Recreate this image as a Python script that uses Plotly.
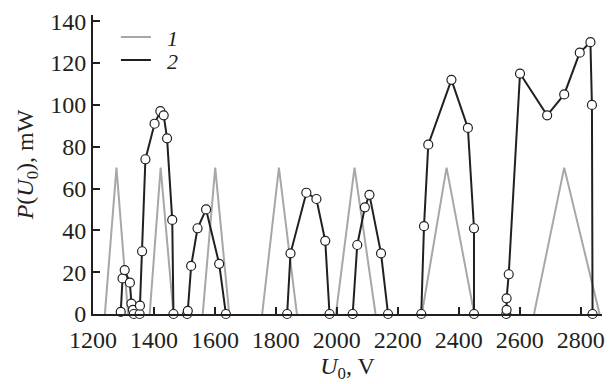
import plotly.graph_objects as go

# Curve 1: triangular pulses (grey), groups separated by None
u1 = [1239, 1277, 1315, None, 1386, 1422, 1464, None, 1560, 1601, 1647, None,
      1755, 1810, 1869, None, 1997, 2058, 2127, None, 2279, 2360, 2451, None,
      2647, 2746, 2862]
p1 = [0, 70, 0, None, 0, 70, 0, None, 0, 70, 0, None,
      0, 70, 0, None, 0, 70, 0, None, 0, 70, 0, None,
      0, 70, 0]

# Curve 2: measured power (black with open circles)
u2 = [1291, 1297, 1304, 1321, 1326, 1331, 1334, 1353, 1354, 1361, 1372, 1402, 1421, 1432, 1443, 1460, 1464, None,
      1509, 1511, 1522, 1543, 1571, 1614, 1636, None,
      1837, 1848, 1900, 1933, 1962, 1976, None,
      2052, 2067, 2092, 2107, 2145, 2168, None,
      2277, 2286, 2300, 2376, 2430, 2450, 2450, None,
      2556, 2557, 2557, 2564, 2601, 2690, 2746, 2797, 2832, 2837, 2839]
p2 = [1, 17, 21, 15, 5, 2, 0, 0, 4, 30, 74, 91, 97, 95, 84, 45, 0, None,
      0, 1.5, 23, 41, 50, 24, 0, None,
      0, 29, 58, 55, 35, 0, None,
      0, 33, 51, 57, 29, 0, None,
      0, 42, 81, 112, 89, 41, 0, None,
      0, 2, 7.5, 19, 115, 95, 105, 125, 130, 100, 0]

x_ticks = [1200, 1400, 1600, 1800, 2000, 2200, 2400, 2600, 2800]
y_ticks = [0, 20, 40, 60, 80, 100, 120, 140]

GREY = "#a7a7a7"
BLACK = "#231f20"
FONT = "Liberation Serif"
FS = 24

fig = go.Figure()
fig.add_trace(go.Scatter(x=u1, y=p1, mode="lines", name="&nbsp;&nbsp;<i>1</i>",
                         legend="legend",
                         line=dict(color=GREY, width=2)))
fig.add_trace(go.Scatter(x=u2, y=p2, mode="lines", name="&nbsp;&nbsp;<i>2</i>",
                         legend="legend2",
                         line=dict(color=BLACK, width=2)))
fig.add_trace(go.Scatter(x=u2, y=p2, mode="markers", showlegend=False,
                         cliponaxis=False,
                         marker=dict(symbol="circle", size=9, color="white",
                                     line=dict(color=BLACK, width=1.2))))

axis_common = dict(showgrid=False, zeroline=False, showline=True,
                   linecolor=BLACK, linewidth=2, ticks="inside", ticklen=7,
                   tickwidth=1.5, tickcolor=BLACK,
                   tickfont=dict(family=FONT, size=FS, color=BLACK))

legend_common = dict(xanchor="left", yanchor="middle",
                     bgcolor="rgba(0,0,0,0)", borderwidth=0,
                     font=dict(family=FONT, size=22, color=BLACK),
                     itemwidth=30)

fig.update_layout(
    width=612, height=384,
    margin=dict(l=93, r=7, t=15, b=70),
    paper_bgcolor="white", plot_bgcolor="white",
    xaxis=dict(range=[1200, 2870], tickvals=x_ticks, ticklabelstandoff=3,
               title=dict(text="<i>U</i><sub>0</sub>, V", standoff=2,
                          font=dict(family=FONT, size=FS, color=BLACK)),
               **axis_common),
    yaxis=dict(range=[0, 143], tickvals=y_ticks,
               title=dict(text="<i>P</i>(<i>U</i><sub>0</sub>), mW", standoff=10,
                          font=dict(family=FONT, size=FS, color=BLACK)),
               **axis_common),
    legend=dict(x=0.045, y=0.926, **legend_common),
    legend2=dict(x=0.045, y=0.849, **legend_common),
    showlegend=True,
)

fig.write_html("out.html")
